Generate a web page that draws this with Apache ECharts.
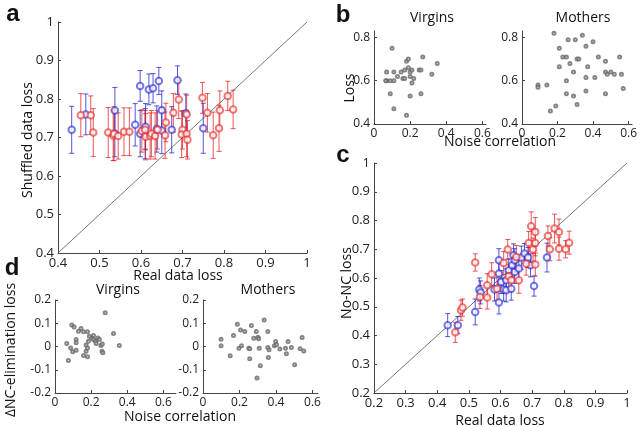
<!DOCTYPE html>
<html>
<head>
<meta charset="utf-8">
<script src="https://cdn.jsdelivr.net/npm/echarts@6/dist/echarts.min.js"></script>
<style>
  html, body { margin: 0; padding: 0; background: #fff; }
  #main { width: 640px; height: 427px; }
</style>
</head>
<body>
<div id="main"></div>
<script>
// panel a: [real loss, shuffled loss, error]
var aRed = [
    [0.455, 0.758, 0.056], [0.479, 0.758, 0.05], [0.485, 0.713, 0.062], [0.521, 0.713, 0.065],
    [0.533, 0.705, 0.065], [0.535, 0.71, 0.07], [0.545, 0.704, 0.06], [0.559, 0.715, 0.062],
    [0.572, 0.715, 0.062], [0.602, 0.717, 0.055], [0.61, 0.72, 0.05], [0.611, 0.702, 0.06],
    [0.622, 0.704, 0.06], [0.625, 0.71, 0.06], [0.634, 0.704, 0.06], [0.64, 0.72, 0.05],
    [0.658, 0.706, 0.06], [0.66, 0.739, 0.05], [0.678, 0.764, 0.05], [0.691, 0.799, 0.05],
    [0.70, 0.72, 0.05], [0.698, 0.708, 0.06], [0.71, 0.71, 0.06], [0.712, 0.694, 0.05],
    [0.71, 0.76, 0.05], [0.748, 0.803, 0.04], [0.76, 0.764, 0.05], [0.774, 0.706, 0.06],
    [0.788, 0.724, 0.06], [0.79, 0.771, 0.05], [0.809, 0.808, 0.038], [0.822, 0.773, 0.05]
];
var aBlue = [
    [0.433, 0.72, 0.061], [0.467, 0.76, 0.053], [0.537, 0.77, 0.06], [0.537, 0.71, 0.06],
    [0.586, 0.733, 0.055], [0.598, 0.834, 0.04], [0.598, 0.71, 0.06], [0.61, 0.71, 0.065],
    [0.611, 0.728, 0.06], [0.619, 0.825, 0.04], [0.629, 0.828, 0.038], [0.638, 0.722, 0.06],
    [0.643, 0.847, 0.035], [0.65, 0.771, 0.05], [0.65, 0.718, 0.06], [0.674, 0.72, 0.06],
    [0.688, 0.849, 0.037], [0.708, 0.763, 0.05], [0.75, 0.724, 0.065]
];

// panel b: [noise correlation, loss]
var bVirgins = [
    [0.10, 0.75], [0.07, 0.64], [0.11, 0.64], [0.07, 0.60], [0.065, 0.60], [0.09, 0.60],
    [0.11, 0.60], [0.09, 0.54], [0.11, 0.47], [0.18, 0.44], [0.13, 0.62], [0.15, 0.64],
    [0.16, 0.61], [0.17, 0.61], [0.17, 0.65], [0.18, 0.69], [0.19, 0.70], [0.19, 0.66],
    [0.20, 0.64], [0.20, 0.62], [0.21, 0.65], [0.21, 0.59], [0.22, 0.61], [0.20, 0.53],
    [0.25, 0.65], [0.26, 0.65], [0.26, 0.54], [0.27, 0.71], [0.32, 0.63], [0.35, 0.68]
];
var bMothers = [
    [0.18, 0.82], [0.34, 0.81], [0.26, 0.79], [0.30, 0.79], [0.40, 0.78], [0.36, 0.76],
    [0.21, 0.75], [0.23, 0.71], [0.25, 0.71], [0.31, 0.70], [0.32, 0.70], [0.43, 0.71],
    [0.47, 0.69], [0.55, 0.71], [0.27, 0.68], [0.21, 0.665], [0.37, 0.665], [0.29, 0.64],
    [0.47, 0.64], [0.48, 0.63], [0.50, 0.64], [0.52, 0.63], [0.56, 0.63], [0.36, 0.615],
    [0.41, 0.615], [0.25, 0.60], [0.09, 0.58], [0.09, 0.57], [0.14, 0.58], [0.57, 0.564],
    [0.36, 0.553], [0.25, 0.54], [0.47, 0.54], [0.29, 0.529], [0.31, 0.49], [0.19, 0.483],
    [0.16, 0.46]
];

// panel c: [real loss, no-NC loss, error]
var cRed = [
    [0.457, 0.411, 0.035], [0.475, 0.488, 0.035], [0.48, 0.497, 0.03], [0.52, 0.654, 0.03],
    [0.535, 0.534, 0.04], [0.558, 0.575, 0.04], [0.558, 0.532, 0.04], [0.572, 0.613, 0.04],
    [0.589, 0.563, 0.04], [0.61, 0.652, 0.04], [0.623, 0.699, 0.035], [0.626, 0.606, 0.04],
    [0.634, 0.592, 0.04], [0.65, 0.673, 0.04], [0.658, 0.592, 0.045], [0.681, 0.65, 0.04],
    [0.689, 0.722, 0.04], [0.697, 0.78, 0.05], [0.703, 0.699, 0.04], [0.71, 0.76, 0.05],
    [0.71, 0.722, 0.045], [0.71, 0.647, 0.04], [0.75, 0.746, 0.035], [0.756, 0.70, 0.04],
    [0.771, 0.772, 0.05], [0.785, 0.76, 0.045], [0.785, 0.702, 0.04], [0.806, 0.70, 0.03],
    [0.817, 0.723, 0.04]
];
var cBlue = [
    [0.433, 0.436, 0.04], [0.465, 0.436, 0.03], [0.52, 0.482, 0.045], [0.533, 0.56, 0.04],
    [0.537, 0.55, 0.04], [0.581, 0.56, 0.04], [0.595, 0.515, 0.04], [0.595, 0.616, 0.04],
    [0.595, 0.662, 0.04], [0.602, 0.586, 0.04], [0.61, 0.56, 0.04], [0.618, 0.592, 0.04],
    [0.618, 0.557, 0.04], [0.626, 0.627, 0.04], [0.634, 0.563, 0.04], [0.637, 0.644, 0.04],
    [0.641, 0.679, 0.04], [0.645, 0.662, 0.04], [0.645, 0.621, 0.04], [0.658, 0.633, 0.04],
    [0.666, 0.671, 0.04], [0.676, 0.685, 0.035], [0.687, 0.671, 0.035], [0.695, 0.644, 0.04],
    [0.706, 0.572, 0.035], [0.747, 0.671, 0.05]
];

// panel d: [noise correlation, change in loss]
var dVirgins = [
    [0.278, 0.145], [0.324, 0.056], [0.356, 0.004], [0.093, 0.092], [0.106, 0.084],
    [0.144, 0.077], [0.13, 0.066], [0.158, 0.063], [0.18, 0.063], [0.19, 0.044],
    [0.204, 0.037], [0.213, 0.047], [0.065, 0.013], [0.087, -0.006], [0.098, -0.023],
    [0.117, -0.016], [0.117, 0.03], [0.117, 0.016], [0.172, 0.006], [0.18, -0.006],
    [0.185, 0.023], [0.213, 0.03], [0.224, 0.023], [0.228, 0.013], [0.237, 0.037],
    [0.246, 0.03], [0.254, 0.004], [0.262, 0.011], [0.26, -0.02], [0.265, -0.027],
    [0.172, -0.02], [0.158, -0.039], [0.18, -0.044], [0.074, -0.06]
];
var dMothers = [
    [0.099, 0.031], [0.099, 0.003], [0.149, -0.04], [0.167, 0.047], [0.188, 0.096],
    [0.206, 0.071], [0.229, 0.064], [0.211, 0.003], [0.197, -0.007], [0.265, 0.09],
    [0.278, 0.036], [0.251, -0.007], [0.256, -0.01], [0.256, -0.053], [0.292, 0.064],
    [0.301, 0.04], [0.305, 0.033], [0.308, -0.007], [0.314, -0.083], [0.296, -0.136],
    [0.335, 0.114], [0.355, 0.064], [0.355, -0.004], [0.362, -0.014], [0.358, -0.047],
    [0.391, 0.003], [0.398, 0.021], [0.403, 0.007], [0.421, -0.011], [0.452, -0.007],
    [0.457, -0.031], [0.466, 0.021], [0.484, -0.004], [0.502, -0.079], [0.532, -0.01],
    [0.543, 0.039], [0.552, -0.019]
];

var diagA = [[0.4, 0.4], [1, 1]];
var diagC = [[0.2, 0.2], [1, 1]];

var RED = 'rgba(228, 30, 30, 0.75)';
var BLUE = 'rgba(30, 30, 210, 0.75)';
var AXIS = '#444';
var FONT = '"Open Sans", "DejaVu Sans", sans-serif';

function axis(type, grid, min, max, ticks, size) {
    return {
        type: 'value', gridIndex: grid, min: min, max: max,
        axisLine: { show: true, onZero: false, lineStyle: { color: AXIS, width: 1 } },
        axisTick: { show: true, inside: true, length: 3, customValues: ticks, lineStyle: { color: AXIS } },
        axisLabel: {
            customValues: ticks, color: '#222', fontSize: size, fontFamily: FONT, margin: 4
        },
        splitLine: { show: false }
    };
}

function range(a, b, step) {
    var out = [];
    for (var v = a; v <= b + 1e-9; v += step) out.push(Math.round(v * 100) / 100);
    return out;
}

function errBars(rows, xi, yi, color) {
    return {
        type: 'custom', xAxisIndex: xi, yAxisIndex: yi, z: 2,
        data: rows.map(function (d) { return [d[0], d[1] - d[2], d[1] + d[2]]; }),
        encode: { x: 0, y: [1, 2] },
        renderItem: function (params, api) {
            var top = api.coord([api.value(0), api.value(2)]);
            var bot = api.coord([api.value(0), api.value(1)]);
            var w = 2.5;
            var st = { stroke: color, lineWidth: 1 };
            return {
                type: 'group', children: [
                    { type: 'line', shape: { x1: top[0], y1: top[1], x2: bot[0], y2: bot[1] }, style: st },
                    { type: 'line', shape: { x1: top[0] - w, y1: top[1], x2: top[0] + w, y2: top[1] }, style: st },
                    { type: 'line', shape: { x1: bot[0] - w, y1: bot[1], x2: bot[0] + w, y2: bot[1] }, style: st }
                ]
            };
        }
    };
}

function circles(rows, xi, yi, color) {
    return {
        type: 'scatter', xAxisIndex: xi, yAxisIndex: yi, z: 3,
        symbol: 'emptyCircle', symbolSize: 6.5,
        itemStyle: { color: color, borderColor: color, borderWidth: 1 },
        data: rows.map(function (d) { return [d[0], d[1]]; })
    };
}

function dots(rows, xi, yi) {
    return {
        type: 'scatter', xAxisIndex: xi, yAxisIndex: yi, z: 3,
        symbol: 'emptyCircle', symbolSize: 3,
        itemStyle: { color: '#666', borderColor: '#666', borderWidth: 0.8 },
        data: rows
    };
}

function diag(rows, xi, yi) {
    return {
        type: 'line', xAxisIndex: xi, yAxisIndex: yi, z: 1, symbol: 'none',
        lineStyle: { color: '#555', width: 0.8 }, data: rows
    };
}

function txt(x, y, s, size, opts) {
    opts = opts || {};
    return {
        type: 'text', x: x, y: y, rotation: opts.rot || 0, z: 10,
        style: {
            text: s, fontSize: size, fontFamily: opts.family || FONT,
            fontWeight: opts.bold ? 'bold' : 'normal', fill: '#111',
            align: 'center', verticalAlign: 'middle'
        }
    };
}

var chart = echarts.init(document.getElementById('main'));

chart.setOption({
    animation: false,
    backgroundColor: '#fff',
    grid: [
        { left: 58, right: 333, top: 22, bottom: 174 },   // a
        { left: 374, right: 154, top: 31, bottom: 303 },  // b virgins
        { left: 522, right: 6, top: 31, bottom: 303 },    // b mothers
        { left: 374, right: 13, top: 163, bottom: 34 },   // c
        { left: 55, right: 464, top: 300, bottom: 34 },   // d virgins
        { left: 203, right: 322, top: 300, bottom: 34 }   // d mothers
    ],
    xAxis: [
        axis('x', 0, 0.4, 1, range(0.4, 1, 0.1), 13),
        axis('x', 1, 0, 0.62, [0, 0.2, 0.4, 0.6], 12),
        axis('x', 2, 0, 0.62, [0, 0.2, 0.4, 0.6], 12),
        axis('x', 3, 0.2, 1, range(0.2, 1, 0.1), 13),
        axis('x', 4, 0, 0.67, [0, 0.2, 0.4, 0.6], 12),
        axis('x', 5, 0, 0.63, [0, 0.2, 0.4, 0.6], 12)
    ],
    yAxis: [
        axis('y', 0, 0.4, 1, range(0.4, 1, 0.1), 13),
        axis('y', 1, 0.4, 0.83, [0.4, 0.6, 0.8], 12),
        axis('y', 2, 0.4, 0.83, [0.4, 0.6, 0.8], 12),
        axis('y', 3, 0.2, 1, range(0.2, 1, 0.1), 13),
        axis('y', 4, -0.2, 0.2, [-0.2, -0.1, 0, 0.1, 0.2], 12),
        axis('y', 5, -0.2, 0.2, [-0.2, -0.1, 0, 0.1, 0.2], 12)
    ],
    series: [
        diag(diagA, 0, 0),
        errBars(aBlue, 0, 0, BLUE), errBars(aRed, 0, 0, RED),
        circles(aBlue, 0, 0, BLUE), circles(aRed, 0, 0, RED),
        dots(bVirgins, 1, 1), dots(bMothers, 2, 2),
        diag(diagC, 3, 3),
        errBars(cBlue, 3, 3, BLUE), errBars(cRed, 3, 3, RED),
        circles(cBlue, 3, 3, BLUE), circles(cRed, 3, 3, RED),
        dots(dVirgins, 4, 4), dots(dMothers, 5, 5)
    ],
    graphic: [
        txt(13, 14, 'a', 24, { bold: true, family: '"Liberation Sans", Arial, sans-serif' }),
        txt(343, 15, 'b', 24, { bold: true, family: '"Liberation Sans", Arial, sans-serif' }),
        txt(343, 155, 'c', 24, { bold: true, family: '"Liberation Sans", Arial, sans-serif' }),
        txt(12, 268, 'd', 24, { bold: true, family: '"Liberation Sans", Arial, sans-serif' }),
        txt(178, 276, 'Real data loss', 14),
        txt(28, 140, 'Shuffled data loss', 14, { rot: Math.PI / 2 }),
        txt(432, 18, 'Virgins', 14),
        txt(583, 18, 'Mothers', 14),
        txt(350, 88, 'Loss', 14, { rot: Math.PI / 2 }),
        txt(500, 142, 'Noise correlation', 14),
        txt(500, 421, 'Real data loss', 14),
        txt(347, 283, 'No-NC loss', 14, { rot: Math.PI / 2 }),
        txt(118, 290, 'Virgins', 14),
        txt(268, 290, 'Mothers', 14),
        txt(11, 350, 'ΔNC-elimination loss', 14, { rot: Math.PI / 2 }),
        txt(180, 417, 'Noise correlation', 14)
    ]
});
</script>
</body>
</html>
